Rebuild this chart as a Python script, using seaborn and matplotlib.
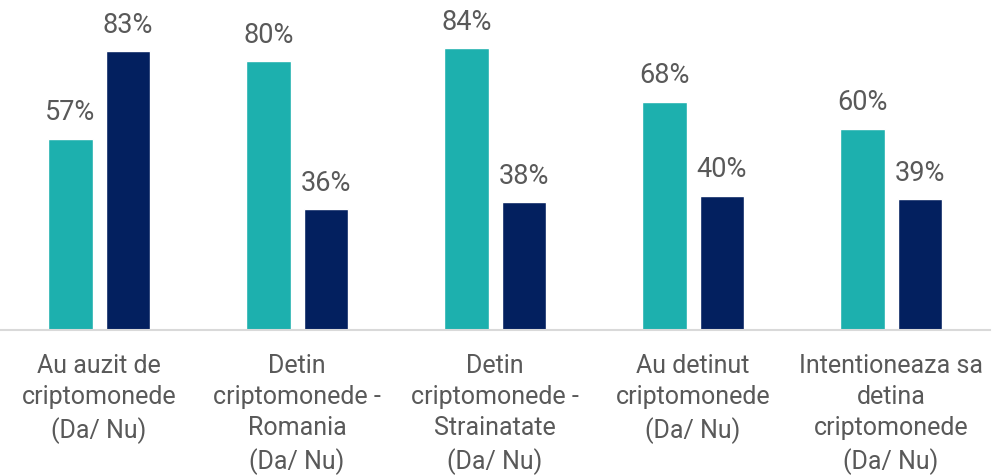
import seaborn as sns
import matplotlib.pyplot as plt
import pandas as pd

# chart values (percent)
categories = [
    "Au auzit de\ncriptomonede\n(Da/ Nu)",
    "Detin\ncriptomonede -\nRomania\n(Da/ Nu)",
    "Detin\ncriptomonede -\nStrainatate\n(Da/ Nu)",
    "Au detinut\ncriptomonede\n(Da/ Nu)",
    "Intentioneaza sa\ndetina\ncriptomonede\n(Da/ Nu)",
]
series_names = ["A", "B"]
values_a = [57, 80, 84, 68, 60]
values_b = [83, 36, 38, 40, 39]

data = pd.DataFrame({
    "cat": categories * 2,
    "serie": [series_names[0]] * 5 + [series_names[1]] * 5,
    "val": values_a + values_b,
})

sns.set_style("white")
plt.rcParams["font.family"] = ["Roboto", "DejaVu Sans"]

fig = plt.figure(figsize=(9.92, 4.76), dpi=100)
ax = fig.add_axes([0, 0.3067, 0.998, 0.6933])

sns.barplot(data=data, x="cat", y="val", hue="serie",
            palette=["#1DB0AE", "#03205F"], width=0.576, gap=0.228,
            legend=False, ax=ax, saturation=1)

for cont in ax.containers:
    ax.bar_label(cont, labels=[f"{v:.0f}%" for v in cont.datavalues],
                 padding=9, fontsize=19.5, color="#595959")

ax.set_ylim(0, 98.3)
ax.set_xlim(-0.5, 4.5)
ax.set_xlabel("")
ax.set_ylabel("")
ax.set_yticks([])
ax.tick_params(axis="x", length=0, pad=17, labelsize=18, labelcolor="#595959")
for lbl in ax.get_xticklabels():
    lbl.set_linespacing(1.38)
sns.despine(ax=ax, left=True)
ax.spines["bottom"].set_color("#D9D9D9")
ax.spines["bottom"].set_linewidth(1.5)

fig.savefig("out.png", dpi=100)
